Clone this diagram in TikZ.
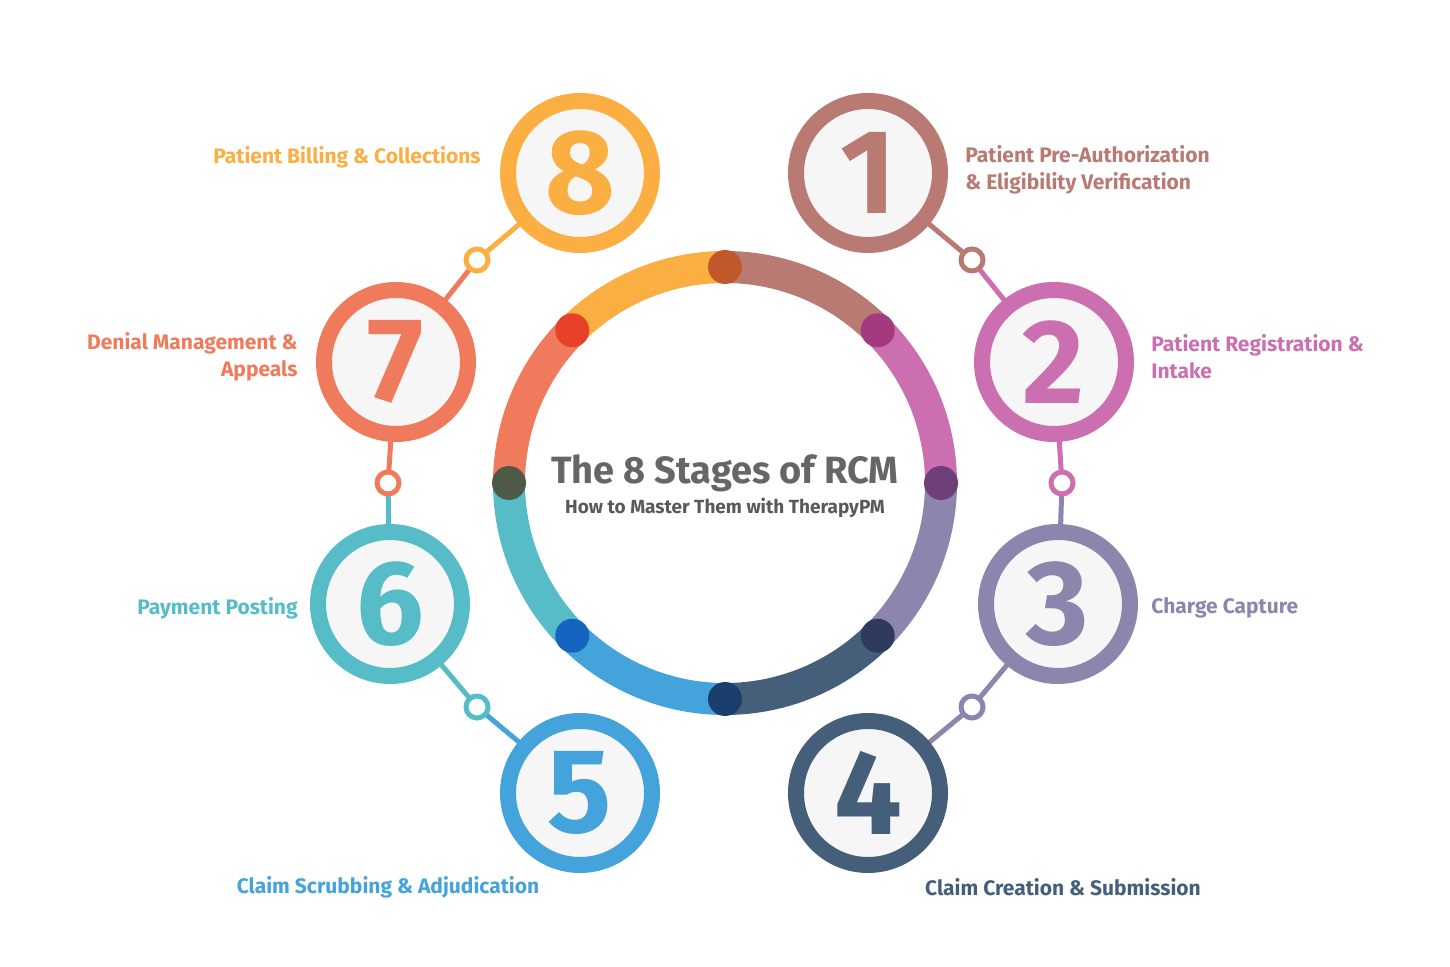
\documentclass[tikz,border=0pt]{standalone}
\usepackage{fontspec}
\setmainfont{Fira Sans}
\usetikzlibrary{calc}
\begin{document}
\begin{tikzpicture}[x=0.5pt,y=-0.5pt,
 big/.style={circle,draw=#1,line width=8pt,fill=gray!7,minimum size=72pt,inner sep=0pt,text=#1,font=\fontsize{60}{60}\selectfont\bfseries},
 small/.style={circle,draw=#1,line width=2.5pt,fill=white,minimum size=11pt,inner sep=0pt},
 conn/.style={draw=#1,line width=2.5pt},
 lab/.style={text=#1,font=\fontsize{10.5}{13.5}\selectfont\bfseries,inner sep=0pt},
 dot/.style={circle,fill=#1,minimum size=17pt,inner sep=0pt}]
\definecolor{c1}{HTML}{B97A74}\definecolor{c2}{HTML}{CB6FB0}
\definecolor{c3}{HTML}{8D85AE}\definecolor{c4}{HTML}{455F7A}
\definecolor{c5}{HTML}{45A3DB}\definecolor{c6}{HTML}{56BCC7}
\definecolor{c7}{HTML}{F07B5C}\definecolor{c8}{HTML}{FBAE42}
\useasboundingbox (0,0) rectangle (1450,967);
% ring
\foreach \a/\c in {-90/c1,-45/c2,0/c3,45/c4,90/c5,135/c6,180/c7,225/c8}
  \draw[\c,line width=16pt] (725,483) ++(\a:216) arc[start angle=\a,end angle=\a+45,radius=216];
\foreach \a/\c/\n in {-90/C0582A/d1,-45/A33A7F/d2,0/6E3F78/d3,45/2E3A5E/d4,90/1A3F6E/d5,135/1565C0/d6,180/4E5A45/d7,225/E8412A/d8}{
  \definecolor{tmp}{HTML}{\c}
  \node[dot=tmp] (\n) at ($(725,483)+(\a:216)$) {};}
% centres of big circles
\coordinate (b1) at (868,173); \coordinate (b2) at (1054,362);
\coordinate (b3) at (1058,604); \coordinate (b4) at (868,793);
\coordinate (b5) at (580,793); \coordinate (b6) at (390,604);
\coordinate (b7) at (396,362); \coordinate (b8) at (580,173);
\coordinate (s12) at (972,260); \coordinate (s23) at (1062,483);
\coordinate (s34) at (972,707); \coordinate (s56) at (477,707);
\coordinate (s67) at (388,483); \coordinate (s78) at (477,260);
\draw[conn=c1] (b1) -- (s12); \draw[conn=c2] (s12) -- (b2);
\draw[conn=c2] (b2) -- (s23); \draw[conn=c3] (s23) -- (b3);
\draw[conn=c3] (b3) -- (s34); \draw[conn=c3] (s34) -- (b4);
\draw[conn=c5] (b5) -- (s56); \draw[conn=c6] (s56) -- (b6);
\draw[conn=c6] (b6) -- (s67); \draw[conn=c7] (s67) -- (b7);
\draw[conn=c7] (b7) -- (s78); \draw[conn=c8] (s78) -- (b8);
\node[small=c1] (m12) at (s12) {};\node[small=c2] (m23) at (s23) {};\node[small=c3] (m34) at (s34) {};
\node[small=c6] (m56) at (s56) {};\node[small=c7] (m67) at (s67) {};\node[small=c8] (m78) at (s78) {};
% big circles
\node[big=c1] (n1) at (b1) {1};
\node[big=c2] (n2) at (b2) {2};
\node[big=c3] (n3) at (b3) {3};
\node[big=c4] (n4) at (b4) {4};
\node[big=c5] (n5) at (b5) {5};
\node[big=c6] (n6) at (b6) {6};
\node[big=c7] (n7) at (b7) {7};
\node[big=c8] (n8) at (b8) {8};
% labels
\node[lab=c8,anchor=east] (l8) at (481,157) {Patient Billing \& Collections};
\node[lab=c1,anchor=west,align=left] (l1) at (965,170) {Patient Pre-Authorization\\\& Eligibility Verification};
\node[lab=c2,anchor=west,align=left] (l2) at (1151,357) {Patient Registration \&\\Intake};
\node[lab=c3,anchor=west] (l3) at (1151,608) {Charge Capture};
\node[lab=c4,anchor=center] (l4) at (1063,887) {Claim Creation \& Submission};
\node[lab=c5,anchor=center] (l5) at (388,887) {Claim Scrubbing \& Adjudication};
\node[lab=c6,anchor=east] (l6) at (298,608) {Payment Posting};
\node[lab=c7,anchor=east,align=right] (l7) at (298,357) {Denial Management \&\\Appeals};
% title
\node[text=black!60,font=\fontsize{19}{19}\selectfont\bfseries] (t) at (725,473) {The 8 Stages of RCM};
\node[text=black!65,font=\fontsize{9.5}{10}\selectfont\bfseries] (st) at (725,508) {How to Master Them with TherapyPM};
\end{tikzpicture}
\end{document}
